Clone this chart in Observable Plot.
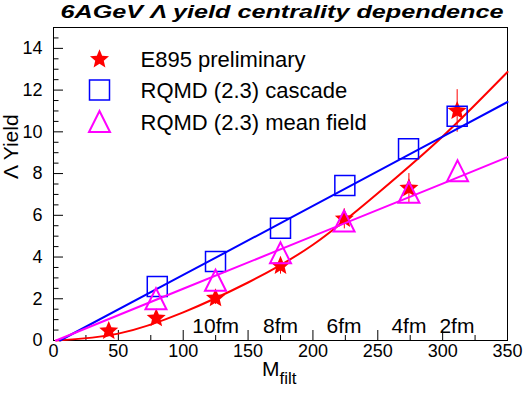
<!DOCTYPE html>
<html><head><meta charset="utf-8">
<script src="https://cdn.jsdelivr.net/npm/d3@7"></script>
<script src="https://cdn.jsdelivr.net/npm/@observablehq/plot@0.6"></script>
<style>body{margin:0;background:#fff}</style>
</head><body><div id="chart"></div>
<script>
// ---- data ----
const titleText = "6AGeV \u039B yield centrality dependence";
const yTitle = "\u039B Yield";
const xTitleMain = "M";
const xTitleSub = "filt";

const e895X = [42.6, 79.2, 124.9, 175, 224.2, 274, 311.2];
const e895Y = [0.46, 1.07, 2.03, 3.58, 5.83, 7.3, 11.0];
const e895Err = [0.1, 0.2, 0.3, 0.4, 0.48, 0.7, 1.02];

const cascadeX = [80, 124.9, 175, 224.6, 273.7, 311.2];
const cascadeY = [2.59, 3.79, 5.38, 7.43, 9.19, 10.75];

const meanX = [79, 124.9, 175, 224, 274, 311.5];
const meanY = [2.0, 2.89, 4.2, 5.73, 7.1, 8.13];

// fitted curves
const redFitX = [2, 50, 100, 150, 200, 250, 300, 350];
const redFitY = [0, 0.33, 1.35, 2.78, 4.59, 7.06, 9.78, 12.87];
const blueFitX = [5, 100, 200, 300, 350];
const blueFitY = [0, 3.14, 6.45, 9.77, 11.43];
const magFitX = [2, 100, 200, 300, 350];
const magFitY = [0, 2.48, 5.0, 7.52, 8.79];

const fmLabels = ["10fm", "8fm", "6fm", "4fm", "2fm"];
const fmX = [125, 175, 224, 274, 311];

const legendLabels = ["E895 preliminary", "RQMD (2.3) cascade", "RQMD (2.3) mean field"];

const xMajor = [0, 50, 100, 150, 200, 250, 300, 350];
const xMinor = [25, 75, 125, 175, 225, 275, 325];
const yMajor = [0, 2, 4, 6, 8, 10, 12, 14];
const yMinor = [0.5, 1, 1.5, 2.5, 3, 3.5, 4.5, 5, 5.5, 6.5, 7, 7.5, 8.5, 9, 9.5, 10.5, 11, 11.5, 12.5, 13, 13.5, 14.5];

// ---- symbols ----
const starSym = {draw(ctx, size) {
  const R = Math.sqrt(size / Math.PI), r0 = R * 0.45;
  for (let i = 0; i < 10; i++) {
    const a = -Math.PI / 2 + i * Math.PI / 5, rr = i % 2 ? r0 : R;
    const px = rr * Math.cos(a), py = rr * Math.sin(a);
    if (i) ctx.lineTo(px, py); else ctx.moveTo(px, py);
  }
  ctx.closePath();
}};
const squareSym = {draw(ctx, size) {
  const r = Math.sqrt(size / Math.PI);
  ctx.moveTo(-r, -r); ctx.lineTo(r, -r); ctx.lineTo(r, r); ctx.lineTo(-r, r); ctx.closePath();
}};
const triSym = {draw(ctx, size) {
  const r = Math.sqrt(size / Math.PI);
  ctx.moveTo(0, -r); ctx.lineTo(r, r); ctx.lineTo(-r, r); ctx.closePath();
}};

const W = 523, H = 393, mL = 53, mR = 16, mT = 27, mB = 53;
const frameW = W - mL - mR, frameH = H - mT - mB;
const font = "'Liberation Sans', Arial, Helvetica, sans-serif";
const idx = d3.range(e895X.length);

const legendDy = [31.8, 62.5, 94];
const legendSyms = [starSym, squareSym, triSym];

const chart = Plot.plot({
  width: W, height: H,
  marginLeft: mL, marginRight: mR, marginTop: mT, marginBottom: mB,
  style: {fontFamily: font, background: "white", color: "black", overflow: "visible"},
  x: {domain: [0, 350], axis: null},
  y: {domain: [0, 15], axis: null},
  marks: [
    Plot.frame({stroke: "black", strokeWidth: 1}),
    // ticks (inward)
    Plot.tickY(yMajor, {y: d => d, insetRight: frameW - 10, stroke: "black"}),
    Plot.tickY(yMinor, {y: d => d, insetRight: frameW - 5.5, stroke: "black"}),
    Plot.tickX(xMajor, {x: d => d, insetTop: frameH - 10, stroke: "black"}),
    Plot.tickX(xMinor, {x: d => d, insetTop: frameH - 5, stroke: "black"}),
    Plot.axisX(xMajor, {tickSize: 0, tickPadding: 4, fontSize: 18, label: null}),
    Plot.axisY(yMajor, {tickSize: 0, tickPadding: 11, fontSize: 18, label: null}),
    // curves and markers
    Plot.line(d3.range(redFitX.length), {x: i => redFitX[i], y: i => redFitY[i], stroke: "#ff0000", strokeWidth: 2, curve: "natural"}),
    Plot.ruleX(idx, {x: i => e895X[i], y1: i => e895Y[i] - e895Err[i], y2: i => e895Y[i] + e895Err[i], stroke: "#ff0000", strokeWidth: 1}),
    Plot.dot(idx, {x: i => e895X[i], y: i => e895Y[i], symbol: starSym, r: 10, fill: "#ff0000", stroke: "none"}),
    Plot.line(d3.range(blueFitX.length), {x: i => blueFitX[i], y: i => blueFitY[i], stroke: "#0000ff", strokeWidth: 2}),
    Plot.dot(d3.range(cascadeX.length), {x: i => cascadeX[i], y: i => cascadeY[i], symbol: squareSym, r: 10, fill: "none", stroke: "#0000ff", strokeWidth: 1.5}),
    Plot.line(d3.range(magFitX.length), {x: i => magFitX[i], y: i => magFitY[i], stroke: "#ff00ff", strokeWidth: 2}),
    Plot.dot(d3.range(meanX.length), {x: i => meanX[i], y: i => meanY[i], symbol: triSym, r: 10.5, fill: "none", stroke: "#ff00ff", strokeWidth: 2}),
    // centrality labels
    Plot.text(fmLabels, {x: fmX, text: d => d, frameAnchor: "bottom", dy: -8, lineAnchor: "bottom", fontSize: 21}),
    // legend
    ...legendLabels.map((lab, k) => Plot.dot([0], {frameAnchor: "top-left", dx: 46, dy: legendDy[k], symbol: legendSyms[k],
      r: k === 2 ? 10.5 : 10,
      fill: k === 0 ? "#ff0000" : "none",
      stroke: k === 0 ? "none" : (k === 1 ? "#0000ff" : "#ff00ff"),
      strokeWidth: k === 1 ? 1.5 : 2})),
    ...legendLabels.map((lab, k) => Plot.text([lab], {text: d => d, frameAnchor: "top-left", dx: 87, dy: legendDy[k] + 1, textAnchor: "start", lineAnchor: "middle", fontSize: 22})),
    // titles
    Plot.text([titleText], {text: d => d, frameAnchor: "top", dx: 1.5, dy: -9.5, lineAnchor: "bottom", fontSize: 18, fontWeight: "bold", fontStyle: "italic"}),
    Plot.text([yTitle], {text: d => d, frameAnchor: "left", rotate: -90, dx: -36, dy: -5, lineAnchor: "bottom", fontSize: 21}),
    Plot.text([xTitleMain], {text: d => d, frameAnchor: "bottom", dx: -1, dy: 35, textAnchor: "end", lineAnchor: "bottom", fontSize: 21}),
    Plot.text([xTitleSub], {text: d => d, frameAnchor: "bottom", dx: -1, dy: 43, textAnchor: "start", lineAnchor: "bottom", fontSize: 17})
  ]
});
document.getElementById("chart").appendChild(chart);
d3.select(chart).selectAll("text")
  .filter(function() { return this.textContent === titleText; })
  .attr("textLength", 443).attr("lengthAdjust", "spacingAndGlyphs");
</script>
</body></html>
